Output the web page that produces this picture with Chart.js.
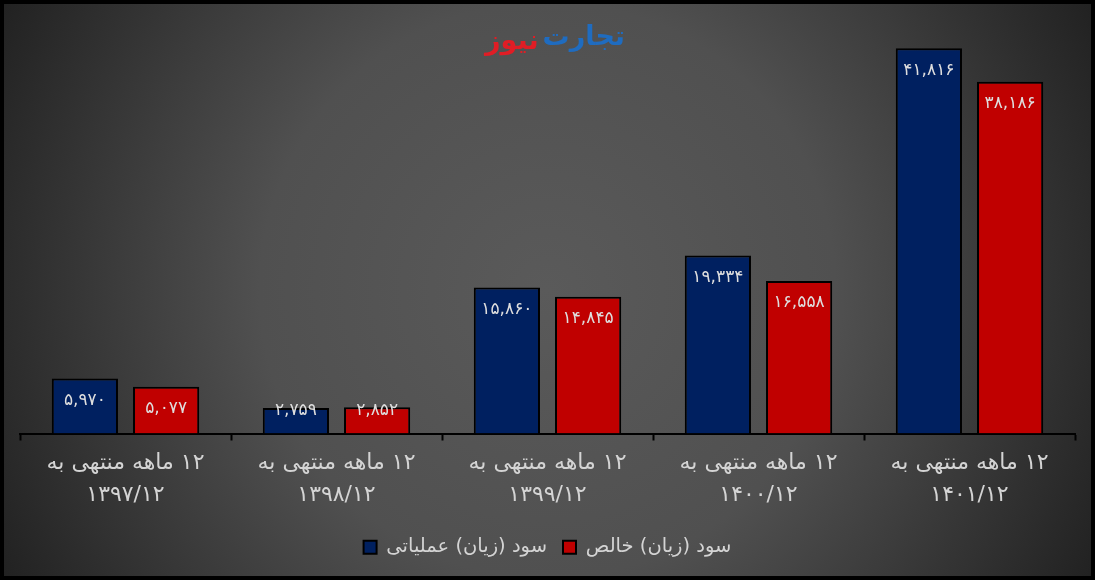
<!DOCTYPE html>
<html>
<head>
<meta charset="utf-8">
<script src="https://cdn.jsdelivr.net/npm/chart.js@4"></script>
<style>
  html, body { margin: 0; padding: 0; background: #000; }
  #wrap { width: 1095px; height: 580px; position: relative; }
</style>
</head>
<body>
<div id="wrap"><canvas id="profitChart" width="1095" height="580"></canvas></div>
<script>
// data
const categories = [
    ['۱۲ ماهه منتهی به', '۱۳۹۷/۱۲'],
    ['۱۲ ماهه منتهی به', '۱۳۹۸/۱۲'],
    ['۱۲ ماهه منتهی به', '۱۳۹۹/۱۲'],
    ['۱۲ ماهه منتهی به', '۱۴۰۰/۱۲'],
    ['۱۲ ماهه منتهی به', '۱۴۰۱/۱۲']
];
const operatingProfit = [5970, 2759, 15860, 19334, 41816];
const netProfit = [5077, 2852, 14845, 16558, 38186];
const seriesNames = ['سود (زیان) عملیاتی', 'سود (زیان) خالص'];

const FONT = "'DejaVu Sans', 'Noto Sans', sans-serif";

// 1234 -> ۱,۲۳۴
function toFa(n) {
    const digits = '۰۱۲۳۴۵۶۷۸۹';
    return n.toLocaleString('en-US').replace(/\d/g, d => digits[d]);
}

// background gradient + frame + logo
const backdrop = {
    id: 'backdrop',
    beforeDraw(chart) {
        const { ctx, width, height } = chart;
        ctx.save();
        const g = ctx.createRadialGradient(width / 2, height / 2, 0, width / 2, height / 2, 640);
        g.addColorStop(0, '#5a5a5a');
        g.addColorStop(0.45, '#505050');
        g.addColorStop(1, '#1e1e1e');
        ctx.fillStyle = g;
        ctx.fillRect(0, 0, width, height);
        ctx.restore();
    },
    afterDraw(chart) {
        const { ctx, width, height } = chart;
        ctx.save();
        // logo
        ctx.font = "bold 27px " + FONT;
        ctx.textBaseline = 'middle';
        ctx.textAlign = 'right';
        ctx.direction = 'rtl';
        ctx.fillStyle = '#1f6cc0';
        ctx.fillText('تجارت', 625, 38);
        const w = ctx.measureText('تجارت').width;
        ctx.fillStyle = '#e11d25';
        ctx.fillText('نیوز', 625 - w - 4, 42);
        // frame
        ctx.strokeStyle = '#000';
        ctx.lineWidth = 4;
        ctx.strokeRect(2, 2, width - 4, height - 4);
        ctx.restore();
    }
};

// value labels inside the top of each bar
const barLabels = {
    id: 'barLabels',
    afterDatasetsDraw(chart) {
        const { ctx } = chart;
        const base = chart.scales.y.getPixelForValue(0);
        ctx.save();
        ctx.font = "17px " + FONT;
        ctx.fillStyle = '#dedede';
        ctx.textAlign = 'center';
        ctx.textBaseline = 'middle';
        chart.data.datasets.forEach((ds, i) => {
            chart.getDatasetMeta(i).data.forEach((bar, j) => {
                const y = Math.min(bar.y + 22, base - 23);
                ctx.fillText(toFa(ds.data[j]), bar.x, y);
            });
        });
        ctx.restore();
    }
};

const ctx = document.getElementById('profitChart').getContext('2d');
new Chart(ctx, {
    type: 'bar',
    data: {
        labels: categories,
        datasets: [{
            label: seriesNames[0],
            data: operatingProfit,
            backgroundColor: '#002060',
            borderColor: '#000',
            borderWidth: 2,
            barPercentage: 0.815,
            categoryPercentage: 0.77
        }, {
            label: seriesNames[1],
            data: netProfit,
            backgroundColor: '#c00000',
            borderColor: '#000',
            borderWidth: 2,
            barPercentage: 0.815,
            categoryPercentage: 0.77
        }]
    },
    options: {
        responsive: false,
        animation: false,
        layout: {
            padding: { top: 19, left: 20, right: 20, bottom: 13 }
        },
        scales: {
            x: {
                grid: {
                    display: true,
                    drawOnChartArea: false,
                    drawTicks: true,
                    tickLength: 7,
                    tickWidth: 2,
                    color: '#000',
                    offset: true
                },
                border: { color: '#000', width: 2 },
                ticks: {
                    color: '#d4d4d4',
                    font: { family: FONT, size: 22, lineHeight: 1.45 },
                    padding: 7,
                    maxRotation: 0
                },
                afterFit(scale) { scale.height = 88; }
            },
            y: {
                display: false,
                min: 0,
                max: 45000
            }
        },
        plugins: {
            legend: {
                position: 'bottom',
                textDirection: 'rtl',
                labels: {
                    color: '#d4d4d4',
                    font: { family: FONT, size: 19.5 },
                    boxWidth: 13,
                    boxHeight: 13,
                    padding: 16,
                    generateLabels(chart) {
                        return chart.data.datasets.map((ds, i) => ({
                            text: ds.label,
                            fillStyle: ds.backgroundColor,
                            strokeStyle: '#000',
                            lineWidth: 2,
                            fontColor: '#d4d4d4',
                            datasetIndex: i,
                            hidden: false
                        }));
                    }
                }
            },
            tooltip: { enabled: false }
        }
    },
    plugins: [backdrop, barLabels]
});
</script>
</body>
</html>
